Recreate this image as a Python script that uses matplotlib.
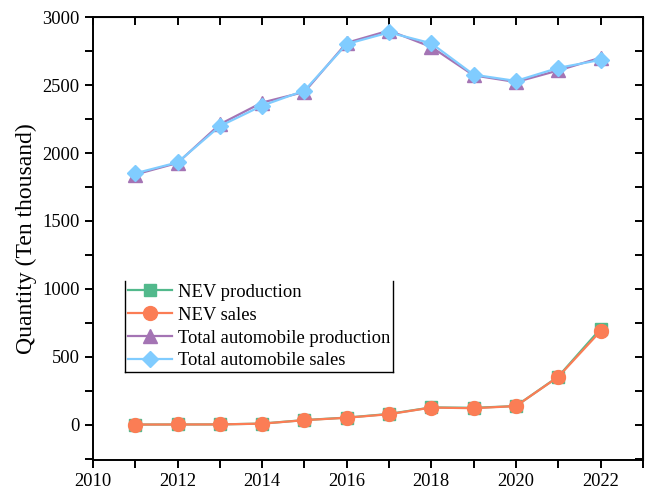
import numpy as np
import matplotlib
matplotlib.use("Agg")
import matplotlib.pyplot as plt
from matplotlib.lines import Line2D
from matplotlib.ticker import MultipleLocator

plt.rcParams["font.family"] = ["Liberation Serif", "DejaVu Serif"]

years = [2011, 2012, 2013, 2014, 2015, 2016, 2017, 2018, 2019, 2020, 2021, 2022]
nev_production = [0.8, 1.3, 1.8, 7.9, 34, 52, 79, 127, 124, 137, 354, 706]
nev_sales = [0.8, 1.3, 1.8, 7.5, 33, 51, 77, 126, 121, 137, 352, 689]
total_production = [1842, 1927, 2212, 2372, 2450, 2812, 2902, 2781, 2572, 2523, 2608, 2702]
total_sales = [1851, 1931, 2198, 2349, 2460, 2803, 2888, 2808, 2577, 2531, 2627, 2686]

fig = plt.figure(figsize=(6.5, 4.93), dpi=100)
ax = fig.add_axes([0.143, 0.067, 0.846, 0.898])

ax.plot(years, nev_production, color="#52b98c", marker="s", ms=8.5, lw=1.6, label="NEV production")
ax.plot(years, nev_sales, color="#fb7d55", marker="o", ms=10, lw=1.6, label="NEV sales")
ax.plot(years, total_production, color="#a474b4", marker="^", ms=10, lw=1.6, label="Total automobile production")
ax.plot(years, total_sales, color="#80ccff", marker="D", ms=8.5, lw=1.6, label="Total automobile sales")

ax.set_xlim(2010, 2023)
ax.set_ylim(-260, 3000)
ax.xaxis.set_major_locator(MultipleLocator(2))
ax.xaxis.set_minor_locator(MultipleLocator(1))
ax.yaxis.set_major_locator(MultipleLocator(500))
ax.yaxis.set_minor_locator(MultipleLocator(250))
ax.set_yticks([0, 500, 1000, 1500, 2000, 2500, 3000])

ax.tick_params(axis="both", which="both", direction="out", length=6, width=1.4,
               top=False, right=False, labelsize=13.3)
# mirrored ticks on top and right, pointing inward
sec_x = ax.secondary_xaxis("top")
sec_x.xaxis.set_major_locator(MultipleLocator(1))
sec_x.tick_params(direction="in", length=6, width=1.4, labeltop=False)
sec_y = ax.secondary_yaxis("right")
sec_y.yaxis.set_major_locator(MultipleLocator(250))
sec_y.tick_params(direction="in", length=6, width=1.4, labelright=False)

for sp in ax.spines.values():
    sp.set_linewidth(1.4)

ax.set_ylabel("Quantity (Ten thousand)", fontsize=17, labelpad=4)

leg = ax.legend(loc="upper left", bbox_to_anchor=(0.058, 0.404), fontsize=13.4,
                frameon=False, handlelength=2.4, borderpad=0.15, labelspacing=0.31,
                handletextpad=0.3, borderaxespad=0)

# legend box: left, right and bottom edges only
fig.canvas.draw()
bb = leg.get_window_extent().transformed(fig.transFigure.inverted())
x0, y0, x1, y1 = bb.x0, bb.y0, bb.x1, bb.y1
for xs, ys in (([x0, x0], [y0, y1]), ([x1, x1], [y0, y1]), ([x0, x1], [y0, y0])):
    fig.add_artist(Line2D(xs, ys, transform=fig.transFigure, color="black", lw=1.0))

fig.savefig("out.png", dpi=100)
